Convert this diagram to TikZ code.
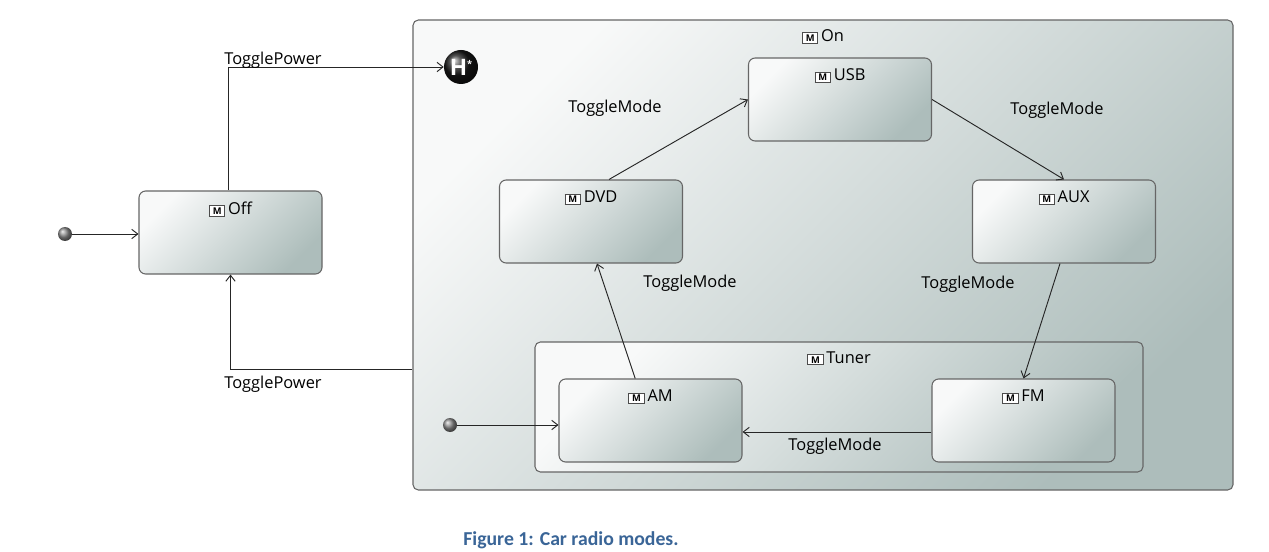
\documentclass[tikz,border=0pt]{standalone}
\usepackage{fontspec}
\setmainfont{Open Sans}
\newfontfamily\capfont{Carlito}
\usetikzlibrary{arrows.meta,calc}
\definecolor{shL}{HTML}{F8F9F9}
\definecolor{shD}{HTML}{ADBDBB}
\definecolor{capblue}{HTML}{3A6597}
\newcommand\micon{\raisebox{0.2pt}{\setlength\fboxsep{0.9pt}\setlength\fboxrule{0.8pt}\fcolorbox{black!70}{white}{\fontsize{7}{7}\selectfont\bfseries\,M\,}}\,}
\begin{document}
\begin{tikzpicture}[x=0.75pt,y=-0.75pt,
  font=\fontsize{12.3}{14}\selectfont,
  shadebox/.style={draw=black!60, line width=0.8pt, rounded corners=5pt,
    top color=shL, bottom color=shD, shading angle=45, inner sep=0pt},
  statebox/.style={shadebox, minimum width=137.25pt, minimum height=62.25pt},
  lab/.style={inner sep=1pt, anchor=north},
  tlab/.style={inner sep=1pt},
  arr/.style={draw=black!85, line width=0.7pt, -{Straight Barb[length=4.5pt,width=7pt]}},
  initdot/.style={circle, minimum size=10.5pt, inner sep=0pt, ball color=black!45, draw=none},
  hist/.style={circle, minimum size=25.5pt, inner sep=0pt, ball color=black!90, text=white}
]
\useasboundingbox (0,0) rectangle (1269,552);

% composite On
\node[shadebox, minimum width=615pt, minimum height=352.5pt, rounded corners=4pt] (on) at (823,255) {};
\node[lab] (onl) at ([yshift=-6.5pt]on.north) {\micon On};

% Tuner
\node[shadebox, minimum width=456pt, minimum height=97.5pt, rounded corners=4pt] (tuner) at (839,407) {};
\node[lab] (tunerl) at ([yshift=-6.5pt]tuner.north) {\micon Tuner};

% states
\node[statebox] (usb) at (840,99.5) {};
\node[statebox] (dvd) at (591,221.5) {};
\node[statebox] (aux) at (1064,221.5) {};
\node[statebox] (am) at (650.5,420.5) {};
\node[statebox] (fm) at (1023.5,420.5) {};
\node[statebox] (off) at (230.5,232.5) {};

\foreach \n/\t in {usb/USB,dvd/DVD,aux/AUX,am/AM,fm/FM,off/Off}
  \node[lab] (\n l) at ([yshift=-7.5pt]\n.north) {\micon \t};

% history and initial pseudostates
\node[hist] (H) at (461,67) {\fontsize{17}{17}\selectfont\bfseries H\raisebox{6pt}{\fontsize{7}{7}\selectfont *}};
\node[initdot] (i1) at (65,234) {};
\node[initdot] (i2) at (450,425) {};

% transitions
\draw[arr] (i1) -- (off.west |- i1);
\draw[arr] (i2) -- (am.west |- i2);
\draw[arr] ([xshift=-1.5pt]off.north) |- (H.west);
\draw[arr] (on.west |- 0,369) -| (off.south);
\draw[arr] ([xshift=13.5pt]dvd.north) -- (usb.west);
\draw[arr] (usb.east) -- (aux.north);
\draw[arr] ([xshift=-3pt]aux.south) -- ([xshift=0pt]fm.north);
\draw[arr] ([xshift=-11.5pt]am.north) -- ([xshift=4.5pt]dvd.south);
\coordinate (fmw) at ([yshift=-8.6pt]fm.west);
\draw[arr] (fmw) -- (am.east |- fmw);

% labels
\node[tlab] (t1) at (273,60) {TogglePower};
\node[tlab] (t2) at (273,384) {TogglePower};
\node[tlab] (t3) at (615,108) {ToggleMode};
\node[tlab] (t4) at (1057,110) {ToggleMode};
\node[tlab] (t5) at (690,283) {ToggleMode};
\node[tlab] (t6) at (968,284) {ToggleMode};
\node[tlab] (t7) at (835,446) {ToggleMode};

% caption
\node[tlab, text=capblue, font=\capfont\bfseries\fontsize{14.8}{16}\selectfont] (cap) at (571,540) {Figure 1: Car radio modes.};
\end{tikzpicture}
\end{document}
